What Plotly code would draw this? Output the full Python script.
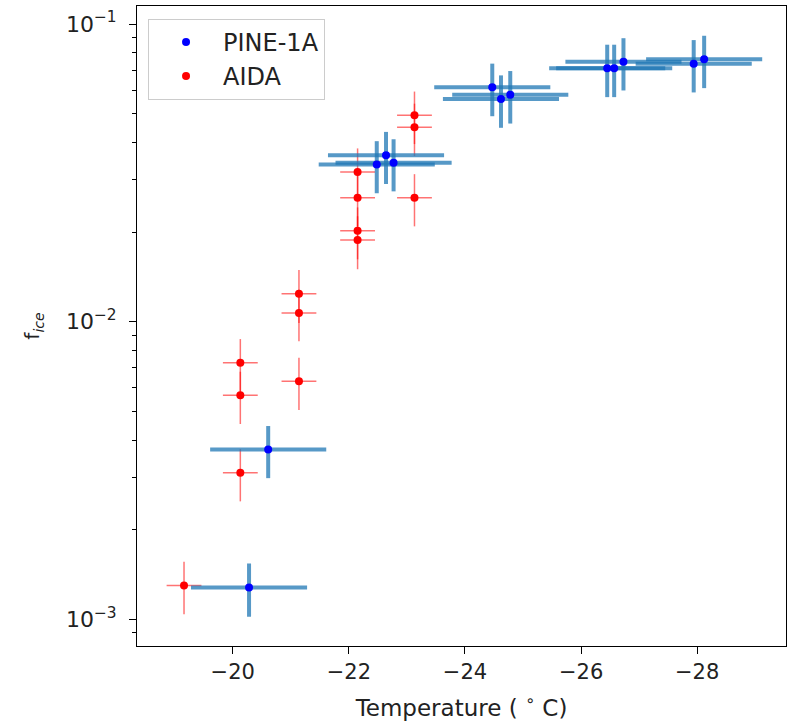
import plotly.graph_objects as go

# ---- data ----
pine_T = [-20.28, -20.61, -22.48, -22.64, -22.77, -24.47, -24.62, -24.78,
          -26.45, -26.57, -26.73, -27.94, -28.12]
pine_f = [1.28e-3, 3.72e-3, 3.37e-2, 3.62e-2, 3.42e-2, 6.13e-2, 5.60e-2, 5.79e-2,
          7.10e-2, 7.10e-2, 7.47e-2, 7.36e-2, 7.61e-2]
pine_Terr = [1.0, 1.0, 1.0, 1.0, 1.0, 1.0, 1.0, 1.0, 1.0, 1.0, 1.0, 1.0, 1.0]
pine_ferr = [0.26e-3, 0.74e-3, 0.67e-2, 0.72e-2, 0.68e-2, 1.23e-2, 1.12e-2, 1.16e-2,
             1.42e-2, 1.42e-2, 1.49e-2, 1.47e-2, 1.52e-2]

aida_T = [-19.16, -20.13, -20.13, -20.13, -21.14, -21.14, -21.14,
          -22.15, -22.15, -22.15, -22.15, -23.13, -23.13, -23.13]
aida_f = [1.30e-3, 3.11e-3, 5.66e-3, 7.28e-3, 6.31e-3, 1.07e-2, 1.24e-2,
          1.88e-2, 2.02e-2, 2.61e-2, 3.18e-2, 2.61e-2, 4.50e-2, 4.94e-2]
aida_Terr = [0.3] * 14
aida_ferr = [0.26e-3, 0.62e-3, 1.13e-3, 1.46e-3, 1.26e-3, 0.21e-2, 0.25e-2,
             0.38e-2, 0.40e-2, 0.52e-2, 0.64e-2, 0.52e-2, 0.90e-2, 0.99e-2]

x_ticks = [-20, -22, -24, -26, -28]
x_ticktext = ["\u221220", "\u221222", "\u221224", "\u221226", "\u221228"]
y_ticks = [1e-3, 1e-2, 1e-1]
y_ticktext = ["10<sup>\u22123</sup>", "10<sup>\u22122</sup>", "10<sup>\u22121</sup>"]
y_minor = [8e-4, 9e-4, 2e-3, 3e-3, 4e-3, 5e-3, 6e-3, 7e-3, 8e-3, 9e-3,
           2e-2, 3e-2, 4e-2, 5e-2, 6e-2, 7e-2, 8e-2, 9e-2]

FONT = "DejaVu Sans"
BLUE_BAR = "rgba(31,119,180,0.75)"
RED_BAR = "rgba(255,0,0,0.55)"

fig = go.Figure()

# error bars (AIDA under PINE)
fig.add_trace(go.Scatter(
    x=aida_T, y=aida_f, mode="markers",
    marker=dict(size=1, color="rgba(0,0,0,0)"),
    error_x=dict(type="data", array=aida_Terr, color=RED_BAR, thickness=1.5, width=0),
    error_y=dict(type="data", array=aida_ferr, color=RED_BAR, thickness=1.5, width=0),
    showlegend=False, hoverinfo="skip"))
fig.add_trace(go.Scatter(
    x=pine_T, y=pine_f, mode="markers",
    marker=dict(size=1, color="rgba(0,0,0,0)"),
    error_x=dict(type="data", array=pine_Terr, color=BLUE_BAR, thickness=4, width=0),
    error_y=dict(type="data", array=pine_ferr, color=BLUE_BAR, thickness=4, width=0),
    showlegend=False, hoverinfo="skip"))

# markers
fig.add_trace(go.Scatter(x=pine_T, y=pine_f, mode="markers", name="PINE-1A",
                         marker=dict(size=8, color="blue")))
fig.add_trace(go.Scatter(x=aida_T, y=aida_f, mode="markers", name="AIDA",
                         marker=dict(size=8, color="red")))

fig.update_layout(
    width=792, height=723, autosize=False,
    margin=dict(l=137, r=6, t=6, b=77),
    paper_bgcolor="white", plot_bgcolor="white",
    font=dict(family=FONT, size=20, color="#222222"),
    legend=dict(x=0.017, y=0.98, xanchor="left", yanchor="top",
                bordercolor="#cccccc", borderwidth=1, bgcolor="rgba(255,255,255,0.8)",
                font=dict(size=24), itemwidth=64, tracegroupgap=0),
    xaxis=dict(
        range=[-18.35, -29.53], showgrid=False, zeroline=False,
        showline=True, linecolor="black", linewidth=1, mirror=True,
        ticks="outside", ticklen=7, tickcolor="black",
        tickvals=x_ticks, ticktext=x_ticktext, tickfont=dict(size=21),
        title=dict(text="Temperature ( <sup>\u2218</sup> C)", font=dict(size=23), standoff=16),
    ),
    yaxis=dict(
        type="log", range=[-3.0897, -0.9395], showgrid=False, zeroline=False,
        showline=True, linecolor="black", linewidth=1, mirror=True,
        ticks="outside", ticklen=7, tickcolor="black",
        tickvals=y_ticks, ticktext=y_ticktext, tickfont=dict(size=22),
        ticklabelstandoff=8,
        minor=dict(ticks="outside", ticklen=4, tickcolor="black", tickvals=y_minor, showgrid=False),
        title=dict(text="f<sub><i>ice</i></sub>", font=dict(size=20), standoff=20),
    ),
)

fig.write_html("out.html")
